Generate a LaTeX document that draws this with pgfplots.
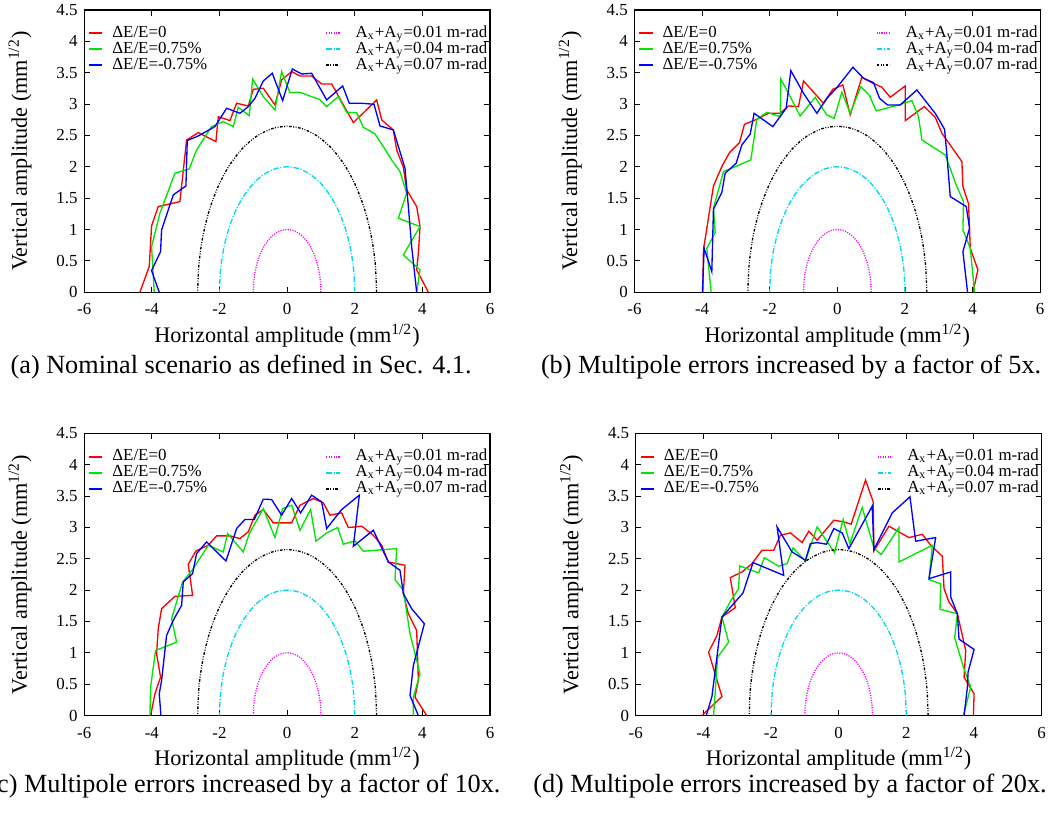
\documentclass[border=0pt]{standalone}
\usepackage{fontspec}
\setmainfont{Liberation Serif}
\usepackage{pgfplots}
\pgfplotsset{compat=1.18}
\usepackage{pgfplotstable}

\definecolor{gpred}{rgb}{1,0,0}
\definecolor{gpgreen}{rgb}{0,0.9,0}
\definecolor{gpblue}{rgb}{0,0,1}
\definecolor{gpmag}{rgb}{1,0,1}
\definecolor{gpcyan}{rgb}{0,0.85,0.95}

\pgfplotstableread{
x y
1 0
0.9848 0.1736
0.9397 0.3420
0.8660 0.5
0.7660 0.6428
0.6428 0.7660
0.5 0.8660
0.3420 0.9397
0.1736 0.9848
0 1
-0.1736 0.9848
-0.3420 0.9397
-0.5 0.8660
-0.6428 0.7660
-0.7660 0.6428
-0.8660 0.5
-0.9397 0.3420
-0.9848 0.1736
-1 0
}\circA
\pgfplotstableread{
x y
2 0
1.9696 0.3472
1.8794 0.6840
1.7320 1.0
1.5320 1.2856
1.2856 1.5320
1.0 1.7320
0.6840 1.8794
0.3472 1.9696
0 2
-0.3472 1.9696
-0.6840 1.8794
-1.0 1.7320
-1.2856 1.5320
-1.5320 1.2856
-1.7320 1.0
-1.8794 0.6840
-1.9696 0.3472
-2 0
}\circB
\pgfplotstableread{
x y
2.646 0
2.6058 0.4593
2.4865 0.9049
2.2914 1.323
2.0268 1.7009
1.7009 2.0268
1.323 2.2914
0.9049 2.4865
0.4593 2.6058
0 2.646
-0.4593 2.6058
-0.9049 2.4865
-1.323 2.2914
-1.7009 2.0268
-2.0268 1.7009
-2.2914 1.323
-2.4865 0.9049
-2.6058 0.4593
-2.646 0
}\circC

\newcommand{\lfont}{\fontsize{7.6}{9}\selectfont}
\newcommand{\LA}{\makebox[99.8pt][l]{\hspace{4pt}ΔE/E=0}}
\newcommand{\LB}{\makebox[99.8pt][l]{\hspace{4pt}ΔE/E=0.75\%}}
\newcommand{\LC}{\makebox[99.8pt][l]{\hspace{4pt}ΔE/E=-0.75\%}}
\newcommand{\RA}{\makebox[66pt][r]{A\textsubscript{x}+A\textsubscript{y}=0.01 m-rad}}
\newcommand{\RB}{\makebox[66pt][r]{A\textsubscript{x}+A\textsubscript{y}=0.04 m-rad}}
\newcommand{\RC}{\makebox[66pt][r]{A\textsubscript{x}+A\textsubscript{y}=0.07 m-rad}}
\pgfplotsset{
  myaxis/.style={
    scale only axis, width=182.6pt, height=127pt,
    xmin=-6, xmax=6, ymin=0, ymax=4.5,
    xtick={-6,-4,-2,0,2,4,6},
    ytick={0,0.5,1,1.5,2,2.5,3,3.5,4,4.5},
    tick align=inside, major tick length=2.5pt,
    axis line style={line width=0.5pt},
    every tick/.style={black, line width=0.4pt},
    /pgf/number format/assume math mode=true,
    tick label style={font=\lfont},
    xticklabel style={anchor=base, yshift=-10.2pt, inner sep=0pt},
    yticklabel style={anchor=east, xshift=-2.8pt, inner sep=0pt},
    xlabel={Horizontal amplitude (mm\textsuperscript{1/2})},
    ylabel={Vertical amplitude (mm\textsuperscript{1/2})},
    label style={font=\lfont},
    every axis x label/.style={at={(axis description cs:0.5,0)}, anchor=base, yshift=-22.5pt},
    every axis y label/.style={at={(axis description cs:-0.158,0.5)}, rotate=90, anchor=center},
    legend columns=2,
    legend cell align=left,
    legend image code/.code={\draw[#1, line width=0.95pt] (0pt,0pt) -- (6pt,0pt);},
    legend style={draw=none, fill=none, at={(0,1)}, anchor=north west,
      xshift=1.7pt, yshift=-6.9pt, inner sep=0pt, outer sep=0pt,
      row sep=0pt, column sep=0pt, font=\lfont,
      nodes={inner sep=0pt, text height=5.3pt, text depth=1.9pt}},
  },
  redl/.style={color=gpred, line width=0.6pt},
  greenl/.style={color=gpgreen, line width=0.6pt},
  bluel/.style={color=gpblue, line width=0.6pt},
  magl/.style={color=gpmag, line width=0.6pt, dash pattern=on 0.5pt off 0.6pt, smooth},
  cyanl/.style={color=gpcyan, line width=0.6pt, dash pattern=on 2.5pt off 0.8pt on 0.5pt off 0.8pt, smooth},
  blackl/.style={color=black, line width=0.6pt, dash pattern=on 1.2pt off 0.7pt on 0.4pt off 0.7pt on 0.4pt off 0.7pt, smooth},
}

\begin{document}
\begin{tikzpicture}
\useasboundingbox (0,0) rectangle (472.05pt,-375.75pt);

% ---------------- (a)
\begin{axis}[myaxis, at={(37.9pt,-4.5pt)}, anchor=north west]
\addplot[redl] coordinates {(-4.353,0) (-4.077,0.409) (-4.008,1.057) (-3.811,1.366) (-3.170,1.445) (-2.972,2.428) (-2.627,2.545) (-2.105,2.402) (-2.036,2.800) (-1.690,2.736) (-1.493,3.013) (-1.148,2.970) (-1.000,3.236) (-0.704,3.252) (-0.359,2.986) (-0.162,3.385) (0.134,3.518) (0.381,3.448) (0.726,3.448) (1.022,3.321) (1.318,3.321) (1.959,2.705) (2.649,3.066) (2.797,2.747) (3.142,2.588) (3.241,2.269) (3.438,1.993) (3.537,1.631) (3.832,1.366) (3.931,1.047) (3.882,0.622) (3.832,0.356) (4.178,0)};
\addlegendentry{\LA}
\addplot[magl] table {\circA};
\addlegendentry{\RA}
\addplot[greenl] coordinates {(-3.929,0) (-4.008,0.728) (-3.761,1.259) (-3.318,1.897) (-2.894,1.966) (-2.677,2.269) (-2.233,2.641) (-1.888,2.720) (-1.592,2.641) (-1.444,2.949) (-1.118,2.816) (-1.020,3.401) (-0.704,3.119) (-0.359,2.906) (-0.162,3.518) (0.085,3.183) (0.381,3.188) (0.775,3.108) (0.953,3.077) (1.170,2.960) (1.515,3.119) (1.761,2.869) (2.057,2.864) (2.254,2.630) (2.600,2.524) (2.846,2.322) (3.093,2.109) (3.339,1.923) (3.536,1.578) (3.290,1.180) (3.931,1.047) (3.438,0.595) (3.931,0.356) (3.832,0)};
\addlegendentry{\LB}
\addplot[cyanl] table {\circB};
\addlegendentry{\RB}
\addplot[bluel] coordinates {(-3.781,0) (-4.008,0.345) (-3.742,0.648) (-3.712,0.994) (-3.367,1.552) (-2.992,1.695) (-2.953,2.418) (-2.627,2.492) (-2.134,2.641) (-1.789,2.933) (-1.394,2.853) (-1.148,2.960) (-0.951,3.092) (-0.704,3.369) (-0.438,3.491) (-0.132,3.055) (0.154,3.560) (0.430,3.480) (0.726,3.491) (1.170,3.066) (1.643,3.289) (1.840,3.013) (2.205,3.013) (2.570,2.997) (2.748,2.651) (3.142,2.588) (3.487,1.977) (3.586,1.366) (3.684,0.728) (3.832,0)};
\addlegendentry{\LC}
\addplot[blackl] table {\circC};
\addlegendentry{\RC}
\end{axis}

% ---------------- (b)
\begin{axis}[myaxis, at={(285.5pt,-4.5pt)}, anchor=north west]
\addplot[redl] coordinates {(-3.978,0) (-3.959,0.675) (-3.663,1.695) (-3.416,2.003) (-3.189,2.226) (-2.894,2.386) (-2.746,2.678) (-2.381,2.758) (-2.036,2.853) (-1.690,2.853) (-1.444,2.970) (-1.148,2.960) (-1.000,3.369) (-0.408,3.013) (-0.132,3.236) (0.164,3.305) (0.381,2.827) (0.726,3.427) (1.022,3.342) (1.318,3.268) (1.564,3.108) (2.008,3.289) (2.008,2.736) (2.570,2.960) (2.895,2.790) (3.093,2.535) (3.684,2.083) (3.714,1.684) (3.882,1.408) (3.931,0.701) (4.158,0.356) (4.010,0)};
\addlegendentry{\LA}
\addplot[magl] table {\circA};
\addlegendentry{\RA}
\addplot[greenl] coordinates {(-3.732,0) (-3.860,0.701) (-3.613,0.951) (-3.663,1.339) (-3.367,1.923) (-2.558,2.109) (-2.381,2.758) (-2.085,2.869) (-1.690,2.800) (-1.671,3.401) (-1.394,3.119) (-1.099,2.811) (-0.655,3.108) (-0.310,2.827) (-0.093,2.774) (0.134,3.188) (0.381,2.853) (0.696,3.278) (0.953,3.135) (1.150,2.891) (1.811,2.986) (2.205,3.055) (2.402,2.800) (2.501,2.428) (3.191,2.189) (3.536,1.684) (3.733,1.445) (3.714,0.994) (3.931,0.701) (4.059,0)};
\addlegendentry{\LB}
\addplot[cyanl] table {\circB};
\addlegendentry{\RB}
\addplot[bluel] coordinates {(-3.988,0) (-3.939,0.701) (-3.712,0.329) (-3.663,1.323) (-3.416,1.589) (-3.318,1.897) (-2.992,2.056) (-2.824,2.349) (-2.578,2.519) (-2.460,2.853) (-1.907,2.641) (-1.513,2.933) (-1.375,3.533) (-1.000,3.172) (-0.606,2.853) (-0.310,3.092) (-0.014,3.262) (0.460,3.587) (0.775,3.411) (1.071,3.342) (1.249,3.092) (1.485,2.986) (1.860,2.986) (2.353,3.225) (2.895,2.853) (3.172,2.598) (3.241,2.189) (3.339,1.525) (3.813,1.366) (3.911,1.020) (3.714,0.648) (3.852,0)};
\addlegendentry{\LC}
\addplot[blackl] table {\circC};
\addlegendentry{\RC}
\end{axis}

% ---------------- (c)
\begin{axis}[myaxis, at={(37.9pt,-195pt)}, anchor=north west]
\addplot[redl] coordinates {(-4.037,0) (-3.909,0.346) (-3.742,0.612) (-3.860,0.985) (-3.811,1.384) (-3.712,1.704) (-3.318,1.901) (-2.795,1.917) (-2.923,2.412) (-2.696,2.625) (-2.331,2.716) (-2.085,2.865) (-1.690,2.865) (-1.394,2.822) (-1.148,2.929) (-0.951,3.195) (-0.704,3.285) (-0.408,3.072) (0.134,3.072) (0.381,3.355) (0.775,3.461) (1.071,3.392) (1.268,3.195) (1.613,3.232) (1.811,2.998) (2.205,3.019) (2.550,2.875) (2.797,2.716) (2.994,2.449) (3.487,2.396) (3.438,1.944) (3.586,1.624) (3.832,1.358) (3.882,0.559) (3.783,0.293) (4.128,0)};
\addlegendentry{\LA}
\addplot[magl] table {\circA};
\addlegendentry{\RA}
\addplot[greenl] coordinates {(-4.057,0) (-4.037,0.453) (-3.890,1.038) (-3.268,1.171) (-3.416,1.544) (-3.091,2.130) (-2.775,2.343) (-2.331,2.716) (-1.888,2.609) (-1.759,2.902) (-1.296,2.609) (-1.118,2.902) (-0.704,3.301) (-0.359,2.838) (-0.132,3.301) (0.134,3.355) (0.381,2.955) (0.696,3.285) (0.854,2.780) (1.170,2.913) (1.495,2.998) (1.663,2.732) (2.008,2.785) (2.254,2.620) (3.241,2.662) (3.191,2.167) (3.438,1.997) (3.635,1.305) (3.931,0.666) (3.734,0.293) (3.734,0)};
\addlegendentry{\LB}
\addplot[cyanl] table {\circB};
\addlegendentry{\RB}
\addplot[bluel] coordinates {(-3.732,0) (-3.781,0.346) (-3.712,0.559) (-3.564,1.278) (-3.367,1.518) (-3.120,1.757) (-3.071,2.130) (-2.795,2.263) (-2.677,2.583) (-2.381,2.769) (-1.809,2.465) (-1.493,2.982) (-1.247,3.126) (-0.970,3.126) (-0.704,3.450) (-0.458,3.445) (-0.162,3.195) (0.134,3.461) (0.400,3.232) (0.726,3.514) (1.022,3.408) (1.170,2.982) (1.613,3.285) (2.136,3.514) (1.959,2.700) (2.550,2.955) (2.994,2.449) (3.339,2.316) (3.438,1.944) (3.684,1.704) (4.059,1.464) (3.734,0.799) (3.635,0.319) (3.882,0)};
\addlegendentry{\LC}
\addplot[blackl] table {\circC};
\addlegendentry{\RC}
\end{axis}

% ---------------- (d)
\begin{axis}[myaxis, at={(286.1pt,-195pt)}, anchor=north west]
\addplot[redl] coordinates {(-4.044,0) (-3.452,0.304) (-3.847,1.012) (-3.600,1.278) (-3.452,1.571) (-3.057,1.720) (-3.205,2.199) (-2.859,2.290) (-2.563,2.423) (-2.267,2.636) (-1.921,2.636) (-1.723,2.875) (-1.427,2.913) (-1.081,2.758) (-0.884,2.939) (-0.637,2.796) (-0.143,3.115) (0.153,3.088) (0.370,3.051) (0.795,3.754) (1.022,3.408) (1.042,2.625) (1.486,3.019) (2.079,2.838) (2.474,2.891) (2.721,2.716) (3.067,2.540) (3.116,2.023) (3.264,1.810) (3.511,1.624) (3.758,1.038) (3.709,0.612) (4.005,0.346) (3.985,0)};
\addlegendentry{\LA}
\addplot[magl] table {\circA};
\addlegendentry{\RA}
\addplot[greenl] coordinates {(-3.699,0) (-3.580,0.932) (-3.254,1.171) (-3.452,1.571) (-3.185,1.837) (-2.958,2.023) (-2.928,2.386) (-2.365,2.274) (-2.198,2.519) (-1.773,2.380) (-1.526,2.423) (-1.348,2.673) (-0.983,2.465) (-0.637,3.009) (-0.123,2.599) (0.133,3.126) (0.331,2.742) (0.696,3.317) (1.042,2.673) (1.259,2.567) (1.783,2.998) (1.783,2.449) (2.770,2.716) (2.672,2.167) (3.017,2.103) (2.998,1.693) (3.511,1.624) (3.432,1.241) (3.689,0.772) (3.906,0.453) (3.689,0)};
\addlegendentry{\LB}
\addplot[cyanl] table {\circB};
\addlegendentry{\RB}
\addplot[bluel] coordinates {(-3.916,0) (-3.748,0.304) (-3.600,0.932) (-3.452,1.571) (-2.830,1.954) (-2.533,2.439) (-1.625,2.236) (-1.822,3.009) (-1.378,2.609) (-0.983,2.476) (-0.835,2.742) (-0.637,2.758) (-0.360,2.732) (-0.143,2.982) (0.104,2.913) (0.301,2.662) (0.993,3.339) (1.042,2.646) (1.585,3.232) (2.109,3.488) (2.277,2.780) (2.869,2.838) (2.672,2.183) (3.314,2.290) (3.314,1.890) (3.511,1.624) (3.560,1.219) (4.005,1.054) (3.827,0.692) (3.807,0.453) (3.709,0)};
\addlegendentry{\LC}
\addplot[blackl] table {\circC};
\addlegendentry{\RC}
\end{axis}

\node[font=\fontsize{11.8}{14}\selectfont, anchor=base] at (108.5pt,-167.9pt) {(a) Nominal scenario as defined in Sec. 4.1.};
\node[font=\fontsize{11.8}{14}\selectfont, anchor=base] at (356pt,-167.9pt) {(b) Multipole errors increased by a factor of 5x.};
\node[font=\fontsize{11.8}{14}\selectfont, anchor=base] at (110pt,-356.4pt) {(c) Multipole errors increased by a factor of 10x.};
\node[font=\fontsize{11.8}{14}\selectfont, anchor=base] at (355.5pt,-356.4pt) {(d) Multipole errors increased by a factor of 20x.};
\end{tikzpicture}
\end{document}
